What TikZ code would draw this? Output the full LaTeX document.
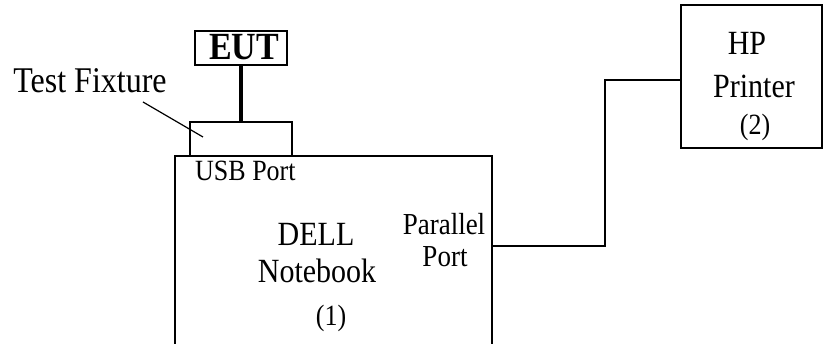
\documentclass[tikz,border=0pt]{standalone}
\usepackage{fontspec}
\setmainfont{Liberation Serif}
\newcommand{\vst}[1]{\scalebox{1}[1.13]{#1}}
\begin{document}
\begin{tikzpicture}[x=1pt,y=-1pt,
  box/.style={draw,line width=1.5pt,inner sep=0pt,minimum width=#1},
  lbl/.style={inner sep=0pt,anchor=base,font=\fontsize{30}{30}\selectfont},
  sml/.style={inner sep=0pt,anchor=base,font=\fontsize{26}{26}\selectfont},
  wire/.style={line width=1.5pt}]
\useasboundingbox (0,0) rectangle (823,344);
\clip (0,0) rectangle (823,344);
% boxes
\node[box=317pt,minimum height=220pt] (nb) at (333.5,266) {};
\node[box=102pt,minimum height=34pt] (fix) at (241,139) {};
\node[box=92pt,minimum height=34pt] (eut) at (241,48) {};
\node[box=141pt,minimum height=143pt] (pr) at (751.5,76.5) {};
% texts
\node[inner sep=0pt,anchor=base,font=\fontsize{34}{34}\selectfont\bfseries] (eutt) at (244,60) {\vst{EUT}};
\node[inner sep=0pt,anchor=base,font=\fontsize{32}{32}\selectfont] (tf) at (90,93) {\vst{Test Fixture}};
\node[sml,anchor=base west] (usb) at (195,181) {\vst{USB Port}};
\node[lbl] (dell) at (316,246) {\vst{DELL}};
\node[lbl] (nbk) at (317,283) {\vst{Notebook}};
\node[sml] (one) at (331,326) {\vst{(1)}};
\node[inner sep=0pt,anchor=base,font=\fontsize{27}{27}\selectfont] (par) at (444,235) {\vst{Parallel}};
\node[inner sep=0pt,anchor=base,font=\fontsize{27}{27}\selectfont] (port) at (445,267) {\vst{Port}};
\node[lbl] (hp) at (747,55) {\vst{HP}};
\node[lbl] (prt) at (754,98) {\vst{Printer}};
\node[sml] (two) at (755,135) {\vst{(2)}};
% connectors
\draw[line width=4pt] (eut.south) -- (fix.north);
\coordinate (la) at (143,102);
\coordinate (lb) at (203,137);
\draw[line width=1.2pt] (la) -- (lb);
\coordinate (bend) at (605,80);
\draw[wire] ([yshift=-91pt]nb.north east) -| (bend) -- (pr.west |- bend);
\end{tikzpicture}
\end{document}
